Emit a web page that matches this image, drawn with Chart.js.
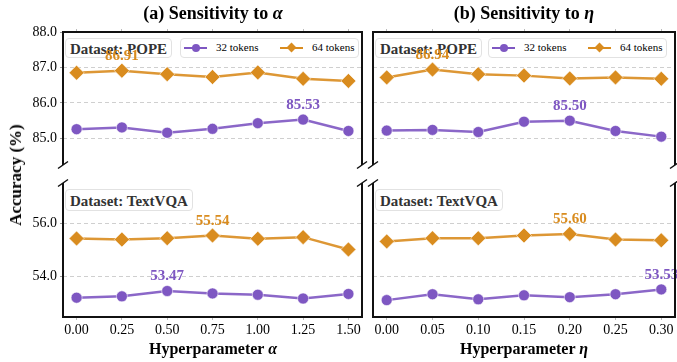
<!DOCTYPE html>
<html>
<head>
<meta charset="utf-8">
<script src="https://cdn.jsdelivr.net/npm/chart.js@4.4.1/dist/chart.umd.min.js"></script>
<style>
  html, body { margin: 0; padding: 0; background: #fff; }
  #wrap { position: relative; width: 677px; height: 362px; overflow: hidden;
          font-family: "Liberation Serif", "DejaVu Serif", serif; color: #000; }
  #wrap canvas { position: absolute; left: 0; top: 0; z-index: 2; }
  .txt { position: absolute; white-space: nowrap; transform: translate(-50%, -50%); font-weight: bold; z-index: 3; }
  .title { font-size: 18px; top: 13px; }
  .xtitle { font-size: 16px; top: 349px; }
  .ytitle { font-size: 17px; left: 16px; top: 175px; transform: translate(-50%, -50%) rotate(-90deg); }
  .dsbox { position: absolute; z-index: 1; height: 20px; line-height: 20px; padding: 0 4px; box-sizing: border-box;
           border: 1px solid #e2e2e2; border-radius: 4px; background: #fff;
           font-size: 15px; font-weight: bold; color: #333; }
  .legend { position: absolute; z-index: 1; width: 179px; height: 20px; box-sizing: border-box;
            border: 1px solid #e2e2e2; border-radius: 4px; background: #fff; font-size: 11px; }
  .legend .ln { position: absolute; top: 8px; height: 2px; width: 23px; }
  .legend .mk { position: absolute; }
  .legend .lb { position: absolute; top: 1px; line-height: 15px; }
</style>
</head>
<body>
<div id="wrap">
  <canvas id="aTop" width="677" height="362"></canvas>
  <canvas id="aBot" width="677" height="362"></canvas>
  <canvas id="bTop" width="677" height="362"></canvas>
  <canvas id="bBot" width="677" height="362"></canvas>

  <div class="txt title" style="left:213px">(a) Sensitivity to <i>α</i></div>
  <div class="txt title" style="left:524px">(b) Sensitivity to <i>η</i></div>
  <div class="txt ytitle">Accuracy (%)</div>
  <div class="txt xtitle" style="left:213px">Hyperparameter <i>α</i></div>
  <div class="txt xtitle" style="left:524px">Hyperparameter <i>η</i></div>

  <div class="dsbox" style="left:65px;top:38px">Dataset: POPE</div>
  <div class="dsbox" style="left:375px;top:38px">Dataset: POPE</div>
  <div class="dsbox" style="left:65px;top:189px;height:22px;line-height:22px">Dataset: TextVQA</div>
  <div class="dsbox" style="left:375px;top:189px;height:22px;line-height:22px">Dataset: TextVQA</div>

  <div class="legend" style="left:180px;top:38px"></div>
  <div class="legend" style="left:488px;top:38px"></div>
</div>

<script>
// ── data ────────────────────────────────────────────────────────────────
const alphaValues = [0.00, 0.25, 0.50, 0.75, 1.00, 1.25, 1.50];
const etaValues   = [0.00, 0.05, 0.10, 0.15, 0.20, 0.25, 0.30];

const popeAlpha32    = [85.26, 85.31, 85.16, 85.27, 85.43, 85.53, 85.21];
const popeAlpha64    = [86.85, 86.91, 86.81, 86.73, 86.86, 86.68, 86.62];
const textvqaAlpha32 = [53.22, 53.27, 53.47, 53.38, 53.33, 53.19, 53.36];
const textvqaAlpha64 = [55.43, 55.39, 55.44, 55.54, 55.42, 55.48, 55.02];

const popeEta32    = [85.22, 85.24, 85.18, 85.47, 85.50, 85.21, 85.05];
const popeEta64    = [86.72, 86.94, 86.81, 86.77, 86.69, 86.72, 86.68];
const textvqaEta32 = [53.13, 53.35, 53.16, 53.31, 53.24, 53.35, 53.53];
const textvqaEta64 = [55.32, 55.44, 55.44, 55.54, 55.60, 55.39, 55.36];

const seriesLabels = ['32 tokens', '64 tokens'];
const popeTicks    = [85.0, 86.0, 87.0, 88.0];
const textvqaTicks = [54.0, 56.0];
const popeLimits    = [84.25, 88.0];
const textvqaLimits = [52.5, 57.5];

// ── style ───────────────────────────────────────────────────────────────
const COLORS = {
  purple: '#7e57c2',
  purpleLine: 'rgba(126, 87, 194, 0.9)',
  orange: '#d98c1f',
  orangeLine: 'rgba(217, 140, 31, 0.9)',
  grid: '#cfcfcf',
  spine: '#111',
};
const FONT = '"Liberation Serif", "DejaVu Serif", serif';
const Y_AXIS_W = 40;

// ── plugins ─────────────────────────────────────────────────────────────
// spines + break marks for the broken y axis
const spinePlugin = {
  id: 'spines',
  afterDraw(chart, args, opts) {
    const { ctx, chartArea: a } = chart;
    ctx.save();
    ctx.strokeStyle = COLORS.spine;
    ctx.lineWidth = 2;
    ctx.beginPath();
    if (opts.top) {
      ctx.moveTo(a.left, a.bottom); ctx.lineTo(a.left, a.top);
      ctx.lineTo(a.right, a.top); ctx.lineTo(a.right, a.bottom);
    } else {
      ctx.moveTo(a.left, a.top); ctx.lineTo(a.left, a.bottom);
      ctx.lineTo(a.right, a.bottom); ctx.lineTo(a.right, a.top);
    }
    ctx.stroke();
    // diagonal break marks
    const by = opts.top ? a.bottom : a.top;
    ctx.lineWidth = 1.5;
    ctx.beginPath();
    for (const bx of [a.left, a.right]) {
      ctx.moveTo(bx - 5, by + 3.5);
      ctx.lineTo(bx + 5, by - 3.5);
    }
    ctx.stroke();
    ctx.restore();
  },
};

// label above the highest point of each series
const peakLabelPlugin = {
  id: 'peakLabels',
  afterDatasetsDraw(chart) {
    const { ctx } = chart;
    ctx.save();
    ctx.font = 'bold 15px ' + FONT;
    ctx.textAlign = 'center';
    ctx.textBaseline = 'bottom';
    chart.data.datasets.forEach((ds, di) => {
      const vals = ds.data.map(p => p.y);
      const idx = vals.indexOf(Math.max(...vals));
      const pt = chart.getDatasetMeta(di).data[idx];
      ctx.fillStyle = ds.pointBackgroundColor;
      ctx.fillText(vals[idx].toFixed(2), pt.x, pt.y - 7);
    });
    ctx.restore();
  },
};

// ── chart builder ───────────────────────────────────────────────────────
function makePanel(id, xs, s32, s64, cfg) {
  const span = xs[xs.length - 1] - xs[0];
  const toPts = arr => arr.map((v, i) => ({ x: xs[i], y: v }));
  const padding = cfg.top
    ? { left: cfg.left - Y_AXIS_W, right: 677 - cfg.right, top: 32 - 10, bottom: 362 - 165 }
    : { left: cfg.left - Y_AXIS_W, right: 677 - cfg.right, top: 183, bottom: 362 - 317 - 30 };

  return new Chart(document.getElementById(id), {
    type: 'line',
    data: {
      datasets: [
        {
          label: seriesLabels[0],
          data: toPts(s32),
          borderColor: COLORS.purpleLine,
          borderWidth: 2.5,
          pointStyle: 'circle',
          pointRadius: 5.5,
          pointBackgroundColor: COLORS.purple,
          pointBorderColor: 'rgba(255,255,255,0.55)',
          pointBorderWidth: 1,
          clip: false,
        },
        {
          label: seriesLabels[1],
          data: toPts(s64),
          borderColor: COLORS.orangeLine,
          borderWidth: 2.5,
          pointStyle: 'rectRot',
          pointRadius: 7.5,
          pointBackgroundColor: COLORS.orange,
          pointBorderColor: 'rgba(255,255,255,0.55)',
          pointBorderWidth: 1,
          clip: false,
        },
      ],
    },
    options: {
      responsive: false,
      animation: false,
      devicePixelRatio: 1,
      layout: { padding, autoPadding: false },
      plugins: {
        legend: { display: false },
        tooltip: { enabled: false },
        spines: { top: cfg.top },
      },
      scales: {
        x: {
          type: 'linear',
          position: cfg.top ? 'top' : 'bottom',
          min: xs[0] - 0.05 * span,
          max: xs[xs.length - 1] + 0.05 * span,
          afterBuildTicks: s => { s.ticks = xs.map(v => ({ value: v })); },
          afterFit: s => { s.height = cfg.top ? 10 : 30; },
          border: { display: false },
          grid: { drawOnChartArea: false, drawTicks: true, tickLength: 3, tickColor: '#bbb' },
          ticks: {
            display: !cfg.top,
            color: '#000',
            padding: 2,
            maxRotation: 0,
            autoSkip: false,
            font: { family: FONT, size: 14 },
            callback: v => Number(v).toFixed(2),
          },
        },
        y: {
          min: cfg.limits[0],
          max: cfg.limits[1],
          afterBuildTicks: s => { s.ticks = cfg.ticks.map(v => ({ value: v })); },
          afterFit: s => { s.width = Y_AXIS_W; },
          border: { display: false, dash: [4, 3] },
          grid: { color: COLORS.grid, lineWidth: 1, drawTicks: cfg.showY, tickLength: 3, tickColor: '#999', tickBorderDash: [] },
          ticks: {
            display: cfg.showY,
            color: '#000',
            padding: 3,
            font: { family: FONT, size: 14 },
            callback: v => Number(v).toFixed(1),
          },
        },
      },
    },
    plugins: [spinePlugin, peakLabelPlugin],
  });
}

makePanel('aTop', alphaValues, popeAlpha32, popeAlpha64,
  { top: true, left: 63, right: 362, limits: popeLimits, ticks: popeTicks, showY: true });
makePanel('aBot', alphaValues, textvqaAlpha32, textvqaAlpha64,
  { top: false, left: 63, right: 362, limits: textvqaLimits, ticks: textvqaTicks, showY: true });
makePanel('bTop', etaValues, popeEta32, popeEta64,
  { top: true, left: 373, right: 675, limits: popeLimits, ticks: popeTicks, showY: false });
makePanel('bBot', etaValues, textvqaEta32, textvqaEta64,
  { top: false, left: 373, right: 675, limits: textvqaLimits, ticks: textvqaTicks, showY: false });

// ── legends (html) ──────────────────────────────────────────────────────
const legendMarkup =
  `<span class="ln" style="left:3px;background:${COLORS.purple}"></span>` +
  `<span class="mk" style="left:11px;top:5px;width:8px;height:8px;border-radius:50%;background:${COLORS.purple}"></span>` +
  `<span class="lb" style="left:35px">${seriesLabels[0]}</span>` +
  `<span class="ln" style="left:99px;background:${COLORS.orange}"></span>` +
  `<span class="mk" style="left:107px;top:5px;width:7px;height:7px;transform:rotate(45deg);background:${COLORS.orange}"></span>` +
  `<span class="lb" style="left:131px">${seriesLabels[1]}</span>`;
document.querySelectorAll('.legend').forEach(el => { el.innerHTML = legendMarkup; });
</script>
</body>
</html>
